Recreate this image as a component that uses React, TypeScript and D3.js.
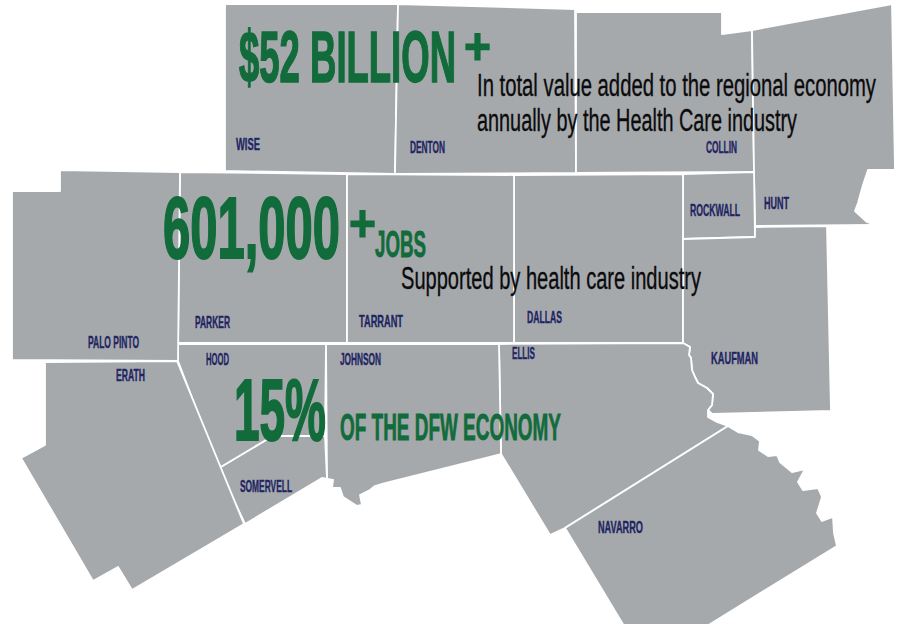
import React from "react";
import * as d3 from "d3";

// river edges shared by neighbouring counties, in the picture's map units
const kaufmanRiver: [number, number][] = [[683, 343], [690, 347], [689, 355], [691, 358], [692, 370], [695, 377], [698, 383], [707, 388], [713, 394], [712, 405], [708, 410]];
const navarroRiver: [number, number][] = [[728, 426], [738, 432], [752, 435], [760, 441], [759, 450], [768, 456], [777, 455], [780, 462], [792, 472], [805, 469], [798, 482], [803, 490], [818, 488], [822, 497], [817, 513], [822, 521], [833, 517], [834, 533], [837, 546]];
const johnsonRiver: [number, number][] = [[501, 454], [385, 483], [375, 486], [370, 490], [360, 495], [362, 505], [357, 506], [343, 497], [340, 488], [332, 488], [333, 480], [327, 479]];

const countyNames = ["Wise", "Denton", "Collin", "Hunt", "Rockwall", "Dallas", "Kaufman", "Ellis", "Navarro", "Johnson", "Somervell", "Hood", "Parker", "Tarrant", "Palo Pinto", "Erath"];

const countyOutlines: [number, number][][] = [
  [[225, 4], [398, 4], [395, 174], [225, 171]],
  [[398, 4], [575, 9], [576, 173], [395, 174]],
  [[576, 12], [722, 12], [722, 34], [752, 30], [754, 172], [576, 173]],
  [[752, 30], [892, 4], [895, 170], [868, 170], [863, 185], [858, 203], [855, 211], [867, 222], [875, 225], [755, 226], [754, 172]],
  [[683, 174], [754, 172], [755, 237], [683, 239]],
  [[514, 175], [683, 174], [683, 343], [514, 343]],
  [[683, 239], [755, 237], [755, 227], [827, 226], [831, 411], [712, 414], [...kaufmanRiver[10]], ...kaufmanRiver.slice(0, 10).reverse()],
  [[499, 344], ...kaufmanRiver, [708, 417], [717, 422], [728, 426], [565, 528], [550, 535], [501, 454]],
  [...navarroRiver, [707, 626], [624, 626], [565, 528]],
  [[326, 344], [499, 344], ...johnsonRiver],
  [[219, 468], [266, 440], [279, 436], [325, 436], [327, 479], [322, 478], [245, 524]],
  [[178, 344], [326, 344], [325, 436], [279, 436], [266, 440], [219, 468], [178, 361]],
  [[180, 172], [347, 174], [347, 343], [178, 343]],
  [[347, 174], [514, 175], [514, 343], [347, 343]],
  [[60, 170], [180, 172], [178, 361], [12, 360], [12, 191], [60, 191]],
  [[45, 362], [177, 361], [244, 524], [132, 590], [118, 567], [93, 581], [21, 458], [45, 445]],
];

const countyLabels = ["WISE", "DENTON", "COLLIN", "HUNT", "ROCKWALL", "DALLAS", "KAUFMAN", "ELLIS", "NAVARRO", "JOHNSON", "SOMERVELL", "HOOD", "PARKER", "TARRANT", "PALO PINTO", "ERATH"];
// [left, right, baseline]
const countyLabelSpans = [[236, 260, 150], [410, 445, 153], [706, 737, 153], [764, 789, 209], [690, 740, 216], [527, 562, 323], [711, 758, 364], [512, 535, 359], [598, 643, 533], [340, 381, 365], [240, 292, 492], [206, 229, 365], [195, 230, 328], [359, 403, 327], [88, 139, 348], [116, 145, 381]];

const headlines = ["$52 BILLION", "+", "601,000", "+", "JOBS", "15%", "OF THE DFW ECONOMY"];
const headlineSpans = [[239, 456, 82], [464, 491, 64], [163, 340, 258], [349, 376, 241], [375, 426, 257], [234, 326, 440], [340, 561, 440]];
const headlineSizes = [72, 52, 88, 52, 37, 87, 37];

const notes = ["In total value added to the regional economy", "annually by the Health Care industry", "Supported by health care industry"];
const noteSpans = [[477, 876, 96], [477, 797, 131], [401, 701, 289]];

const width = 898;
const height = 625;
const displayFont = "'Liberation Sans Narrow', 'Liberation Sans', sans-serif";

const App = () => {
  const projection = d3.geoIdentity().clipExtent([[0, 0], [width, height]]);
  const path = d3.geoPath(projection);
  const place = (x: number, y: number) => projection([x, y]) as [number, number];

  const features = countyNames.map((name, i) => ({
    type: "Feature",
    properties: { name },
    geometry: { type: "Polygon", coordinates: [[...countyOutlines[i], countyOutlines[i][0]]] },
  }));

  return (
    <svg
      width={width}
      height={height}
      viewBox={`0 0 ${width} ${height}`}
      style={{ position: "absolute", left: 0, top: 0, background: "#fff" }}
    >
      <g>
        {features.map((f: any) => (
          <path key={f.properties.name} d={path(f) as string} fill="#a6a9ac" stroke="#fff" strokeWidth={1.8} strokeLinejoin="round" />
        ))}
      </g>
      <g fontFamily={displayFont} fontWeight="bold" fill="#1f2563" stroke="#1f2563" strokeWidth={0.4} fontSize={17}>
        {countyLabels.map((label, i) => {
          const [x0, x1, y] = countyLabelSpans[i];
          const [px, py] = place(x0, y);
          return (
            <text key={label} x={px} y={py} textLength={x1 - x0} lengthAdjust="spacingAndGlyphs">{label}</text>
          );
        })}
      </g>
      <g fontFamily={displayFont} fontWeight="bold" fill="#126b3a" stroke="#126b3a">
        {headlines.map((label, i) => {
          const [x0, x1, y] = headlineSpans[i];
          const [px, py] = place(x0, y);
          const size = headlineSizes[i];
          return (
            <text key={i} x={px} y={py} fontSize={size} strokeWidth={size / 45} textLength={x1 - x0} lengthAdjust="spacingAndGlyphs">{label}</text>
          );
        })}
      </g>
      <g fontFamily={displayFont} fill="#0b0b0c" stroke="#0b0b0c" strokeWidth={0.35} fontSize={31}>
        {notes.map((label, i) => {
          const [x0, x1, y] = noteSpans[i];
          const [px, py] = place(x0, y);
          return (
            <text key={label} x={px} y={py} textLength={x1 - x0} lengthAdjust="spacingAndGlyphs">{label}</text>
          );
        })}
      </g>
    </svg>
  );
};

export default App;
